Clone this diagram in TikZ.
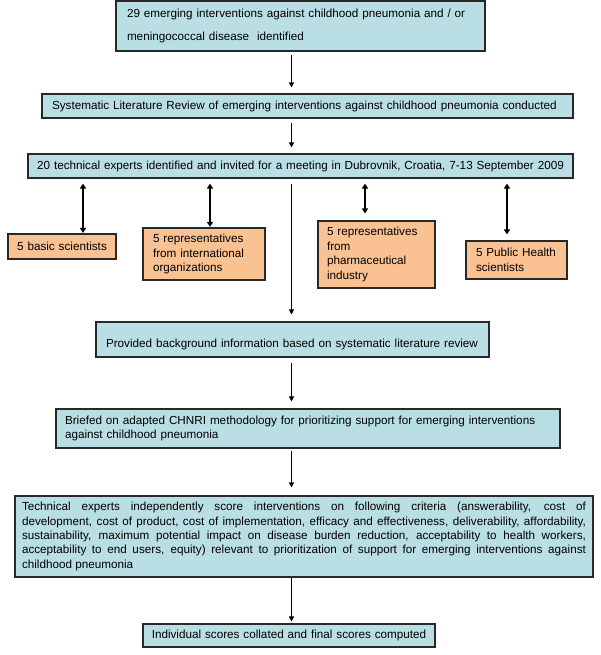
\documentclass[tikz,border=0pt]{standalone}
\usepackage{fontspec}
\setmainfont{Liberation Sans}
\usetikzlibrary{arrows.meta}
\definecolor{boxblue}{RGB}{185,222,228}
\definecolor{boxorange}{RGB}{250,194,146}
\definecolor{boxline}{RGB}{40,40,40}
\tikzset{
  bbox/.style={draw=boxline, line width=1.1pt, fill=boxblue, align=left, inner ysep=0pt,
    font=\fontsize{11.7}{14.5}\selectfont},
  obox/.style={draw=boxline, line width=1.1pt, fill=boxorange, align=left, inner ysep=0pt,
    font=\fontsize{11.7}{14.5}\selectfont},
  arr/.style={line width=0.9pt, -{Triangle[length=5pt,width=5pt]}},
  dbl/.style={line width=1.6pt, {Triangle[length=5pt,width=6pt]}-{Triangle[length=5pt,width=6pt]}}
}
\begin{document}
\begin{tikzpicture}[x=1pt,y=-1pt]
\useasboundingbox (0,0) rectangle (600,655);
\coordinate (sp) at (291.5,0);
\coordinate (c1) at (83,0);
\coordinate (c2) at (210,0);
\coordinate (c3) at (365,0);
\coordinate (c4) at (507,0);

\node[bbox, minimum width=369pt, minimum height=50pt, inner xsep=11pt, text width=347pt,
  font=\fontsize{11.7}{23}\selectfont] (b1) at (300.5,26)
  {29 emerging interventions against childhood pneumonia and / or\\meningococcal disease~ identified};
\node[bbox, minimum width=531pt, minimum height=24pt, inner xsep=10pt, text width=511pt] (b2) at (307.5,106)
  {Systematic Literature Review of emerging interventions against childhood pneumonia conducted};
\node[bbox, align=center, minimum width=545pt, minimum height=24pt, inner xsep=3pt, text width=539pt] (b3) at (300.5,166)
  {20 technical experts identified and invited for a meeting in Dubrovnik, Croatia, 7-13 September 2009};

\node[obox, align=center, minimum width=108pt, minimum height=25pt, inner xsep=2pt, text width=104pt] (o1) at (62,246.5)
  {5 basic scientists};
\node[obox, minimum width=122pt, minimum height=52pt, inner xsep=10pt, text width=102pt] (o2) at (204,254)
  {5 representatives\\from international\\organizations};
\node[obox, minimum width=117pt, minimum height=67pt, inner xsep=9pt, text width=99pt] (o3) at (376.5,254.5)
  {5 representatives\\from\\pharmaceutical\\industry};
\node[obox, minimum width=101pt, minimum height=38pt, inner xsep=10pt, text width=81pt] (o4) at (516.5,260)
  {5 Public Health\\scientists};

\node[bbox, minimum width=393pt, minimum height=35pt, inner xsep=10pt, text width=373pt,
  text height=15pt, text depth=0pt] (b4) at (292.5,339.5)
  {Provided background information based on systematic literature review};
\node[bbox, minimum width=504pt, minimum height=39pt, inner xsep=9pt, text width=486pt] (b5) at (308,428.5)
  {Briefed on adapted CHNRI methodology for prioritizing support for emerging interventions\\against childhood pneumonia};
\node[bbox, align=justify, minimum width=578pt, minimum height=81pt, inner xsep=7pt, text width=564pt,
  font=\fontsize{11.7}{14.3}\selectfont] (b6) at (304,536.5)
  {\makebox[564pt][s]{Technical experts independently score interventions on following criteria (answerability, cost of}\\
   \makebox[564pt][s]{development, cost of product, cost of implementation, efficacy and effectiveness, deliverability, affordability,}\\
   \makebox[564pt][s]{sustainability, maximum potential impact on disease burden reduction, acceptability to health workers,}\\
   \makebox[564pt][s]{acceptability to end users, equity) relevant to prioritization of support for emerging interventions against}\\
   childhood pneumonia};
\node[bbox, minimum width=292pt, minimum height=23pt, inner xsep=6pt, text width=280pt, align=center] (b7) at (289,635.5)
  {Individual scores collated and final scores computed};

\draw[arr, shorten <=3pt, shorten >=6pt] (b1.south -| sp) -- (b2.north -| sp);
\draw[arr, shorten <=4pt, shorten >=6pt] (b2.south -| sp) -- (b3.north -| sp);
\draw[arr, shorten <=5pt, shorten >=7pt] (b3.south -| sp) -- (b4.north -| sp);
\draw[arr, shorten <=5pt, shorten >=7pt] (b4.south -| sp) -- (b5.north -| sp);
\draw[arr, shorten <=2pt, shorten >=8pt] (b5.south -| sp) -- (b6.north -| sp);
\draw[arr, shorten >=2pt] (b6.south -| sp) -- (b7.north -| sp);

\draw[dbl, shorten <=5pt, shorten >=0.5pt] (b3.south -| c1) -- (o1.north -| c1);
\draw[dbl, shorten <=5pt, shorten >=0.5pt] (b3.south -| c2) -- (o2.north -| c2);
\draw[dbl, shorten <=5pt, shorten >=7pt] (b3.south -| c3) -- (o3.north -| c3);
\draw[dbl, shorten <=5pt, shorten >=6pt] (b3.south -| c4) -- (o4.north -| c4);
\end{tikzpicture}
\end{document}
